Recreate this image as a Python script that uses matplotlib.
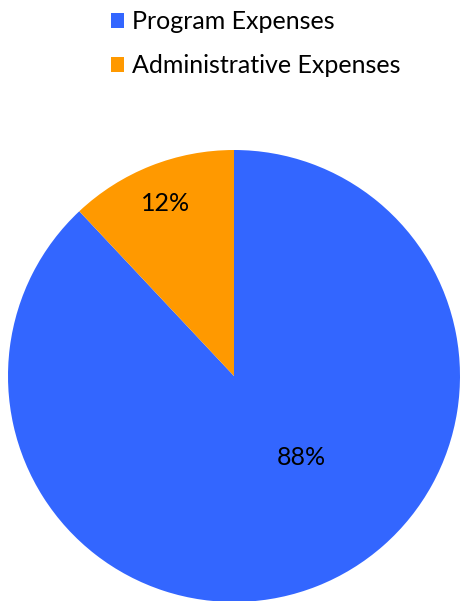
import matplotlib
matplotlib.use('Agg')
import matplotlib.pyplot as plt
from matplotlib.patches import Patch

labels = ['Program Expenses', 'Administrative Expenses']
values = [88, 12]
colors = ['#3366FF', '#FF9900']

plt.rcParams['font.family'] = ['Lato', 'DejaVu Sans']

fig = plt.figure(figsize=(4.61, 6.01), dpi=100)
ax = fig.add_axes([8/461, -1/601, 452/461, 452/601])

wedges, texts, autotexts = ax.pie(values, colors=colors, startangle=90, counterclock=False,
                                  autopct='%d%%', pctdistance=0.82,
                                  textprops={'fontsize': 18, 'color': 'black'})
# Excel-style placement of the big slice label
autotexts[0].set_position((0.30, -0.36))
ax.set_xlim(-1, 1)
ax.set_ylim(-1, 1)
ax.set_aspect('equal')

handles = [Patch(facecolor=c, edgecolor='none') for c in colors]
fig.legend(handles, labels, loc='upper left', bbox_to_anchor=(88/461, 1.02),
           frameon=False, fontsize=18, handlelength=0.52, handleheight=0.52,
           handletextpad=0.36, labelspacing=0.83)

fig.savefig('out.png', dpi=100)
